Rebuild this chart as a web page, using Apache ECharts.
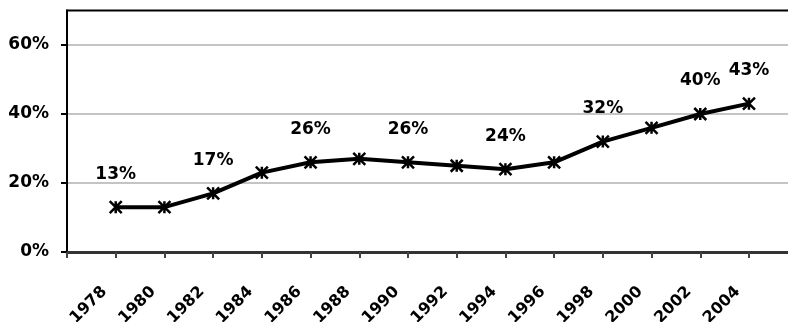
<!DOCTYPE html>
<html>
<head>
<meta charset="utf-8">
<style>
  html, body { margin: 0; padding: 0; background: #fff; }
  #chart { width: 788px; height: 322px; }
</style>
<script src="https://cdn.jsdelivr.net/npm/echarts@6/dist/echarts.min.js"></script>
</head>
<body>
<div id="chart"></div>
<script>
// Survey years and share (percent) for each year
const years = [1978, 1980, 1982, 1984, 1986, 1988, 1990, 1992, 1994, 1996, 1998, 2000, 2002, 2004];
const shares = [13, 13, 17, 23, 26, 27, 26, 25, 24, 26, 32, 36, 40, 43];
// Years whose value is printed above the marker
const labeledYears = [1978, 1982, 1986, 1990, 1994, 1998, 2002, 2004];
// Percent ticks on the value axis
const yTicks = [0, 20, 40, 60];
// Year ticks on the time axis (one spare slot before the first survey year)
const xTicks = [1976].concat(years);

const FONT = '"DejaVu Sans", "Liberation Sans", Arial, sans-serif';

const seriesData = years.map((y, i) => ({
  value: [y, shares[i]],
  label: { show: labeledYears.indexOf(y) !== -1 }
}));

const chart = echarts.init(document.getElementById('chart'), null, { renderer: 'canvas' });

chart.setOption({
  animation: false,
  backgroundColor: '#ffffff',
  grid: {
    left: 67,
    right: -58.4,
    top: 10.5,
    bottom: 70,
    outerBoundsMode: 'none',
    containLabel: false,
    show: true,
    borderColor: '#000',
    borderWidth: 2,
    backgroundColor: 'transparent'
  },
  xAxis: {
    type: 'value',
    min: 1976,
    max: 2008,
    interval: 2,
    axisLine: { show: true, onZero: false, lineStyle: { color: '#333', width: 3 } },
    axisTick: { show: true, length: 6, customValues: xTicks, lineStyle: { color: '#444', width: 2 } },
    splitLine: { show: false },
    axisLabel: {
      rotate: 45,
      margin: 26,
      padding: [0, 16, 0, 0],
      customValues: years,
      color: '#000',
      fontFamily: FONT,
      fontWeight: 'bold',
      fontSize: 16,
      formatter: v => String(v)
    }
  },
  yAxis: {
    type: 'value',
    min: 0,
    max: 70,
    interval: 20,
    axisLine: { show: true, lineStyle: { color: '#000', width: 2 } },
    axisTick: { show: true, length: 6, customValues: yTicks, lineStyle: { color: '#000', width: 2 } },
    splitLine: { show: true, lineStyle: { color: '#c4c4c4', width: 2 } },
    axisLabel: {
      margin: 18,
      customValues: yTicks,
      color: '#000',
      fontFamily: FONT,
      fontWeight: 'bold',
      fontSize: 17,
      formatter: v => v + '%'
    }
  },
  series: [{
    type: 'line',
    data: seriesData,
    symbol: 'path://M0,0L10,10M10,0L0,10M5,0L5,10',
    symbolSize: 12,
    showAllSymbol: true,
    lineStyle: { color: '#000', width: 4 },
    itemStyle: { color: '#000', borderColor: '#000', borderWidth: 2.5 },
    label: {
      position: 'inside',
      offset: [0, -33],
      color: '#000',
      fontFamily: FONT,
      fontWeight: 'bold',
      fontSize: 17,
      formatter: p => p.value[1] + '%'
    },
    emphasis: { disabled: true }
  }]
});
</script>
</body>
</html>
